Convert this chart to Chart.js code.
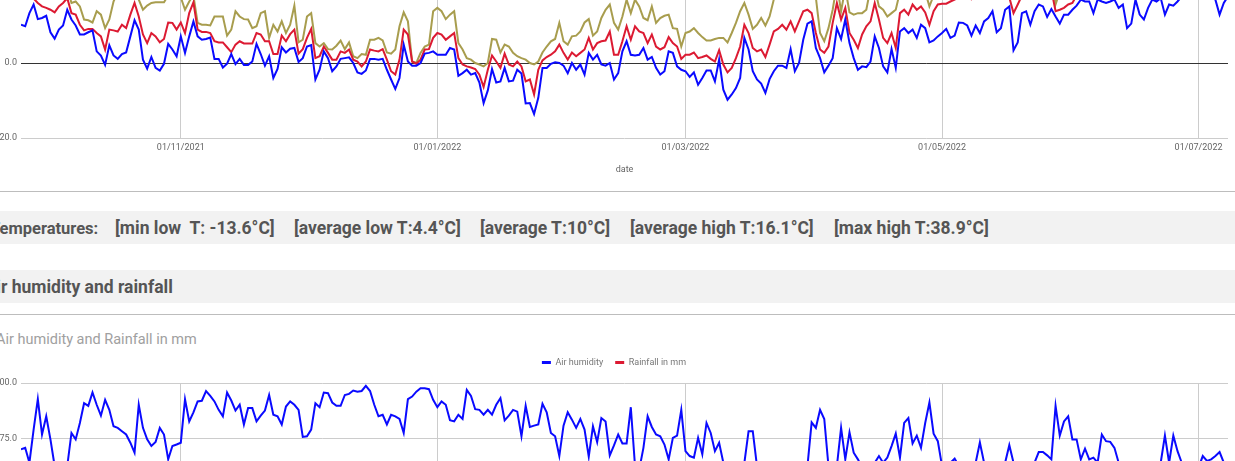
<!DOCTYPE html>
<html>
<head>
<meta charset="utf-8">
<script src="https://cdn.jsdelivr.net/npm/chart.js@4.4.1/dist/chart.umd.min.js"></script>
<style>
  html, body { margin: 0; padding: 0; }
  body { width: 1235px; height: 461px; overflow: hidden; position: relative; background: #fff; font-family: Roboto, Arial, sans-serif; }
  .rule { position: absolute; left: 0; width: 1235px; height: 1px; background: #bdbdbd; }
  .band { position: absolute; left: 0; width: 1235px; height: 33px; background: #f2f2f2; }
  .band span { position: absolute; top: 1px; line-height: 33px; white-space: pre; font-weight: 700; font-size: 17.5px; color: #555; }
  .box { position: absolute; left: 0; width: 1235px; }
  #title2 { position: absolute; left: -4px; top: 331px; font-size: 14.5px; color: #a0a0a0; white-space: pre; }
</style>
</head>
<body>

<div class="box" style="top:-97px;height:277px"><canvas id="tempChart"></canvas></div>

<div class="rule" style="top:191px"></div>
<div class="band" style="top:211px">
  <span style="left:-10px;font-size:16.5px">Temperatures:</span>
  <span style="left:115px">[min low  T: -13.6°C]</span>
  <span style="left:294px">[average low T:4.4°C]</span>
  <span style="left:480px">[average T:10°C]</span>
  <span style="left:630px">[average high T:16.1°C]</span>
  <span style="left:834px">[max high T:38.9°C]</span>
</div>
<div class="band" style="top:270px">
  <span style="left:-15.5px">Air humidity and rainfall</span>
</div>
<div class="rule" style="top:314px"></div>

<div id="title2">Air humidity and Rainfall in mm</div>
<div class="box" style="top:346px;height:301px"><canvas id="humChart"></canvas></div>

<script>
// one value per day, starting 24/09/2021 and ending 08/07/2022
const startLabel = '24/09/2021'
const monthTickDays = [38, 99, 158, 219, 280]
const monthTicks = ['01/11/2021', '01/01/2022', '01/03/2022', '01/05/2022', '01/07/2022']

const lowT = [
  10.2, 9.8, 13.3, 15.6, 11.7, 12.0, 12.6, 8.2, 6.5, 8.9, 10.0, 14.2, 11.6, 10.0, 7.6, 7.6, 8.2, 8.7, 3.1, 2.0,
  -0.5, 4.7, 2.0, 1.1, 2.4, 2.8, 7.1, 11.4, 8.9, 0.9, -1.5, 1.6, -1.3, -2.0, -0.2, 5.1, 3.6, 1.8,
  7.1, 2.7, 7.1, 11.1, 7.1, 6.2, 6.4, 6.8, 1.1, 1.1, -1.2, -0.2, 2.4, -0.3, 1.1, -0.5, -0.5, 0.4, 5.1, 2.4,
  -0.7, 1.8, -4.0, -1.6, 4.2, 2.8, 3.8, 4.0, 0.3, 1.3, 4.4, 4.8, -4.4, -1.8,
  3.1, 1.3, -2.2, -0.9, 1.1, 1.3, 1.5, 0, -2.5, -2.9, -2.0, 1.1, 1.1, 0.9, 1.1, -1.8, -4.4, -6.9, -4.0, 4.9,
  0.4, -0.7, -0.7, 0, 2.5, 2.7, 3.1, 2.2, 2.2, 2.2, 4.0, 3.6, -3.4, -2.7, -1.8, -3.1, -2.7, -5.2, -10.7, -7.3,
  -1.6, -5.2, -4.9, -1.3, -4.9, -4.7, -1.8, -2.8, -10.8, -10.7, -13.6, -9.3, -1.3, -1.3, -0.2, 0.2, 0, -0.7, -2.7, 0,
  -1.8, -0.4, -3.1, 2.7, 0.9, 2.2, -0.4, -0.7, 0, -4.4, -2.7, 3.1, 5.8, 2.2,
  2.0, 2.2, 4.0, 0.9, 1.6, -1.3, -3.1, -2.2, 3.1, 2.7, -0.9, -1.8, -2.2, -3.7, -2.5, -5.8, -4.0, -2.0, -2.0, -4.9,
  0.9, -7.1, -9.8, -8.4, -6.7, -4.0, 6.7, 3.6, -2.2, -4.4, -5.5, -8.0, -4.3, -2.2, -0.7, -0.7, -1.3, 3.7, -2.2, 0,
  6.2, 10.5, 11.1, 4.0, 1.3, -2.5, -0.7, 1.3, 9.3, 6.4, 11.6, 5.3, 1.3, -1.8, -0.9, -1.1, 0.4, 7.1, 4.0, -0.9,
  -2.5, 3.7, -1.3, 8.4, 9.3, 8.0, 8.9, 6.7, 10.2, 9.3, 5.5, 6.0,
  7.1, 8.0, 9.1, 6.7, 7.3, 10.8, 10.7, 10.0, 7.3, 10.0, 8.0, 11.1, 12.0, 13.8, 8.2, 9.3, 14.2, 15.1, 3.4, 5.5,
  13.3, 13.8, 10.2, 13.8, 15.6, 15.1, 12.3, 14.4, 12.4, 10.5, 12.9, 12.9, 14.2, 15.3, 16.9, 16.4, 16.4, 13.3, 16.9, 16.4,
  16.0, 16.4, 16.9, 14.7, 15.6, 9.3, 10.5, 16.9, 12.9, 11.6, 14.7, 16.9, 16.4, 17.3, 12.9, 15.6, 15.3, 16.4, 17.8, 18.7,
  18.2, 18.7, 19.1, 18.2, 18.7, 17.8, 16.9, 12.9, 16.0, 17.8
]

const avgT = [
  18.0, 18.5, 17.8, 17.2, 16.0, 15.1, 14.7, 14.2, 13.5, 15.1, 16.0, 17.3, 13.3, 12.9, 10.2, 8.7, 9.1, 9.1, 8.0, 7.1,
  3.6, 8.9, 8.7, 8.4, 10.2, 9.3, 12.9, 16.0, 12.4, 7.6, 5.3, 8.0, 7.1, 5.5, 6.4, 10.8, 10.7, 8.9,
  10.8, 8.0, 13.3, 16.2, 8.9, 8.3, 8.3, 8.0, 5.8, 5.5, 5.5, 4.2, 2.9, 4.9, 5.8, 5.2, 5.2, 5.2, 8.0, 7.6,
  5.8, 5.8, 2.4, 2.4, 7.3, 5.8, 7.7, 8.9, 2.5, 3.7, 6.7, 9.1, 1.3, 1.8,
  4.4, 2.7, 0.9, 0.9, 3.1, 2.7, 3.6, 0.9, 0.4, -0.9, 0.4, 3.6, 3.3, 3.1, 3.7, 0.9, -2.2, -3.1, 0.9, 8.9,
  7.6, 0.4, -0.2, 0.9, 3.6, 3.7, 6.7, 8.0, 7.6, 6.2, 7.1, 8.0, 1.3, -0.4, -0.9, -1.2, -1.6, -3.1, -6.4, -1.8,
  2.0, 0.4, -1.3, 2.5, -0.4, -0.9, 0.4, -0.9, -4.9, -4.4, -8.4, -1.8, 0.7, 1.6, 2.2, 3.1, 4.9, 2.7, 0.9, 2.8,
  1.8, 2.7, 3.6, 6.7, 3.6, 5.3, 5.8, 6.0, 8.4, 2.2, 2.2, 5.8, 9.8, 6.2,
  9.8, 8.4, 8.0, 5.3, 7.6, 4.4, 3.6, 4.2, 6.9, 5.3, 4.4, 1.1, 2.2, 2.2, 2.8, 1.3, 1.6, 2.0, 1.1, 0.4,
  3.4, -0.4, -2.5, -1.3, 1.3, 4.4, 10.2, 8.0, 4.0, 3.1, 3.6, 1.6, 4.9, 8.4, 9.1, 10.2, 8.9, 11.1, 8.4, 11.1,
  13.8, 14.2, 13.3, 8.0, 3.6, 2.7, 4.4, 10.7, 16.0, 11.6, 14.7, 8.0, 6.2, 4.0, 7.6, 9.8, 11.1, 16.0, 11.6, 6.7,
  5.3, 8.0, 4.0, 13.3, 14.2, 12.9, 15.6, 14.2, 15.1, 13.5, 10.2, 13.8,
  15.6, 15.8, 15.8, 16.4, 16.9, 17.5, 18.0, 17.5, 17.0, 18.0, 17.5, 18.5, 19.0, 19.5, 18.0, 18.0, 19.5, 17.5, 13.3, 15.6,
  18.0, 19.0, 17.5, 19.0, 20.0, 20.0, 18.5, 19.5, 13.8, 14.2, 14.7, 15.6, 16.0, 18.0,
  19.5, 20.5, 21.0, 19.0, 21.5, 21.0, 20.5, 21.5, 22.0, 20.0, 21.0, 17.5, 18.5, 22.0, 20.0, 19.5, 21.0, 22.5, 22.0, 23.0,
  20.5, 22.0, 21.5, 22.5, 23.5, 24.5, 24.0, 24.5, 25.0, 24.0, 24.5, 23.5, 22.5, 20.0, 22.5, 24.0
]

const highT = [
  22, 23, 24, 22, 21, 20, 21, 19, 19, 21, 22, 20, 16.0, 16.4, 15.1, 11.6, 11.4, 10.8, 13.8, 12.9,
  9.3, 11.6, 16.4, 19, 19, 18, 20, 23, 16.9, 14.2, 15.3, 16.0, 16.2, 16.2, 16.2, 18, 19, 18,
  17.5, 14.2, 16.4, 18, 10.7, 10.2, 10.2, 10.0, 12.4, 12.4, 12.4, 7.3, 8.9, 13.8, 12.4, 11.7, 11.6, 9.3, 9.8, 13.3,
  13.8, 6.7, 10.2, 8.4, 11.1, 8.0, 10.2, 15.3, 5.5, 6.2, 12.4, 13.3, 5.3, 4.4,
  5.3, 3.7, 3.6, 4.6, 6.0, 3.7, 5.5, 1.8, 1.3, 2.4, 2.2, 6.2, 6.2, 6.7, 6.0, 2.8, 2.5, 3.6, 9.8, 13.5,
  11.1, 0.4, 0, 2.7, 4.4, 4.9, 13.8, 14.7, 13.8, 11.7, 12.9, 13.8, 5.3, 3.6, 1.3, 0.9, 0, -0.4, -0.9, 0,
  6.4, 6.2, 2.8, 4.9, 4.4, 2.7, 1.8, 1.3, 0.9, 0, -0.4, 0.4, 2.8, 4.4, 5.8, 6.4, 10.7, 5.8, 4.9, 7.1,
  7.3, 8.4, 10.8, 11.7, 7.3, 8.4, 12.0, 14.2, 15.6, 10.7, 8.9, 12.4, 16.9, 13.3,
  16.9, 15.1, 12.0, 11.4, 15.1, 10.7, 12.0, 12.6, 12.9, 9.3, 9.1, 4.4, 8.0, 8.4, 9.3, 8.0, 6.9, 6.0, 6.0, 6.4,
  6.7, 6.7, 5.5, 8.0, 10.7, 13.8, 16.0, 12.9, 9.1, 10.2, 12.0, 10.0, 12.4, 16.9, 18, 20, 19, 21, 19, 21,
  23, 24, 22, 17.5, 8.0, 5.8, 9.3, 14.2, 21, 13.8, 20, 13.5, 12.9, 13.3, 13.3, 14.2, 20, 20, 15.1, 14.2,
  12.4, 13.3, 14.2, 19, 20, 19, 21, 20, 21, 19, 15.1, 18,
  19, 17.5, 20, 21, 22, 23, 22, 24, 23, 22, 24, 25, 26, 27, 24, 25, 27, 25, 19, 21,
  24, 26, 24, 26, 27, 28, 26, 25, 15.6, 19, 21, 22, 23, 25, 26, 27, 28, 25, 28, 27,
  26, 28, 29, 27, 28, 24, 25, 29, 27, 26, 28, 30, 29, 31, 27, 29, 28, 30, 31, 33,
  38.9, 36, 34, 32, 33, 31, 30, 27, 30, 32
]

const humidity = [
  70.1, 70.8, 64.1, 79.0, 92.7, 76.8, 85.0, 74.6, 62.6, 59.7, 61.2, 62.6, 77.5, 74.6, 82.0, 90.9, 89.7, 95.7, 90.2, 85.3,
  92.4, 87.9, 80.5, 79.8, 78.3, 76.8, 73.1, 68.6, 90.2, 79.8, 74.6, 71.6, 73.4, 79.8, 76.8, 65.6, 71.6, 72.3,
  73.1, 92.7, 82.7, 86.8, 91.7, 92.0, 96.4, 94.2, 91.7, 87.9, 85.0, 95.7, 92.1, 87.6, 90.2, 81.3, 88.7, 88.7, 82.7, 85.3,
  87.6, 94.6, 85.7, 85.0, 81.3, 89.4, 91.7, 90.2, 87.9, 75.7, 76.0, 79.0, 90.9, 89.1, 95.7, 95.4, 91.2, 89.7, 89.7, 94.6,
  95.1, 96.6, 96.1, 96.4, 98.7, 96.4, 90.2, 85.0, 85.7, 81.3, 85.7, 85.0, 83.8, 77.5, 92.7, 93.9, 96.1, 97.6,
  97.6, 97.2, 92.4, 89.1, 91.7, 90.2, 83.2, 82.7, 85.7, 83.8, 96.9, 94.2, 88.2, 87.9, 85.7, 87.9, 85.7, 90.2, 93.2, 83.2,
  85.3, 87.9, 87.1, 76.0, 89.7, 80.2, 80.8, 81.3, 90.6, 86.8, 77.5, 76.0, 67.1, 80.8, 86.8, 83.5, 79.8, 83.8, 79.0, 66.8,
  80.5, 73.4, 84.2, 82.7, 67.4, 71.9, 76.8, 72.8, 72.8, 89.1, 62.6, 61.0, 70.8, 85.0, 80.2, 76.8, 76.0, 72.3, 65.6, 75.3,
  76.3, 87.9, 69.3, 67.1, 66.4, 75.3, 67.9, 82.0, 77.5, 69.3, 73.1, 64.1, 61.0, 58.0, 59.7, 62.6, 64.0, 78.3, 78.3, 62.6,
  60.0, 57.5, 55.0, 58.0, 61.0, 56.0, 53.0, 57.0, 59.5, 55.5, 60.0,
  62.6, 82.3, 79.8, 87.9,
  83.8, 62.6, 60.4, 62.6, 79.8, 65.6, 77.8, 68.6, 65.6, 61.9, 61.2, 62.6, 64.1, 67.1, 64.1, 66.4, 71.6, 77.2, 66.4, 82.0,
  84.2, 72.8, 76.3, 70.8, 82.0, 91.2, 77.2, 73.8, 62.6, 61.9, 64.1, 65.9, 62.6, 61.2, 61.9, 62.6, 64.1, 73.2, 64.1, 61.2,
  59.7, 60.4, 61.9, 64.1, 72.0, 64.1, 61.2, 60.4, 61.9, 62.6, 64.1, 68.9, 68.9, 67.4, 65.6, 89.7, 76.3, 82.7, 85.0, 74.6,
  74.6, 65.6, 70.4, 65.6, 66.4, 64.1, 76.8, 73.8, 73.5, 70.8, 64.1,
  60.0, 57.0, 54.5, 58.0, 61.5, 56.5, 52.0, 55.0, 59.0,
  64.1, 76.3, 64.1, 76.3, 69.3, 64.1,
  58.0, 55.5, 60.5, 62.0,
  67.1, 64.9, 65.6, 67.1, 68.9, 64.1, 62.6
]

// rainy days only (day index from the start, mm); every other day is 0
const rainDays = [2, 13, 27, 35, 52, 60, 66, 73, 90, 98, 104, 118, 127, 135, 147, 156, 166, 170, 178, 184, 197, 208, 219, 233, 236, 247]
const rainMm = [4.2, 8.5, 12.0, 6.1, 3.0, 9.8, 5.5, 2.4, 7.2, 4.6, 3.3, 6.0, 2.1, 5.0, 1.8, 3.6, 2.2, 7.4, 10.5, 1.5, 4.8, 14.2, 2.7, 6.3, 3.9, 5.1]

const rainfall = humidity.map(() => 0)
rainDays.forEach((d, i) => { rainfall[d] = rainMm[i] })

const pts = arr => arr.map((v, i) => ({ x: i, y: v }))

Chart.defaults.font.family = 'Roboto, Arial, sans-serif'
Chart.defaults.color = '#666'

const dateAxis = (showTitle) => ({
  type: 'linear',
  min: 0,
  max: lowT.length - 1,
  afterBuildTicks: s => { s.ticks = monthTickDays.map(v => ({ value: v })) },
  afterFit: s => { s.height = 42 },
  ticks: {
    autoSkip: false,
    maxRotation: 0,
    padding: 4,
    font: { size: 9 },
    color: '#666',
    callback: v => monthTicks[monthTickDays.indexOf(v)]
  },
  grid: { color: '#cccccc', drawTicks: false },
  border: { display: false },
  title: { display: showTitle, text: 'date', font: { size: 9 }, color: '#666', padding: { top: 0, bottom: 5 } }
})

new Chart(document.getElementById('tempChart'), {
  type: 'line',
  data: {
    datasets: [
      { label: 'low T', data: pts(lowT), borderColor: '#0a0aff', backgroundColor: '#0a0aff' },
      { label: 'average T', data: pts(avgT), borderColor: '#dc1a32', backgroundColor: '#dc1a32' },
      { label: 'high T', data: pts(highT), borderColor: '#a89d4e', backgroundColor: '#a89d4e' }
    ]
  },
  options: {
    animation: false,
    responsive: true,
    maintainAspectRatio: false,
    layout: { padding: { top: 10, right: 7, bottom: 0, left: 0 } },
    elements: { point: { radius: 0 }, line: { borderWidth: 2, tension: 0 } },
    plugins: { legend: { display: false }, tooltip: { enabled: false } },
    scales: {
      x: dateAxis(true),
      y: {
        min: -20,
        max: 40,
        afterFit: s => { s.width = 21 },
        ticks: { stepSize: 20, padding: 4, font: { size: 9 }, color: '#666', callback: v => v.toFixed(1) },
        grid: { drawTicks: false, color: c => (c.tick && c.tick.value === 0 ? '#333333' : '#cccccc') },
        border: { display: false }
      }
    }
  }
})

// extra room between the legend and the plot
const legendGap = {
  id: 'legendGap',
  beforeInit(chart) {
    const fit = chart.legend.fit
    chart.legend.fit = function () {
      fit.bind(chart.legend)()
      this.height += 6
    }
  }
}

new Chart(document.getElementById('humChart'), {
  type: 'line',
  data: {
    datasets: [
      { label: 'Air humidity', data: pts(humidity), borderColor: '#0a0aff', backgroundColor: '#0a0aff' },
      { label: 'Rainfall in mm', data: pts(rainfall), borderColor: '#dc1a32', backgroundColor: '#dc1a32' }
    ]
  },
  options: {
    animation: false,
    responsive: true,
    maintainAspectRatio: false,
    layout: { padding: { top: 0, right: 7, bottom: 0, left: 0 } },
    elements: { point: { radius: 0 }, line: { borderWidth: 2, tension: 0 } },
    plugins: {
      tooltip: { enabled: false },
      legend: {
        labels: {
          boxWidth: 9,
          boxHeight: 3,
          padding: 12,
          font: { size: 9 },
          color: '#777',
          generateLabels: chart => Chart.defaults.plugins.legend.labels.generateLabels(chart).map(l => ({ ...l, lineWidth: 0 }))
        }
      }
    },
    scales: {
      x: dateAxis(false),
      y: {
        min: 0,
        max: 100,
        afterFit: s => { s.width = 21 },
        ticks: { stepSize: 25, padding: 4, font: { size: 9 }, color: '#666', callback: v => v.toFixed(1) },
        grid: { drawTicks: false, color: '#cccccc' },
        border: { display: false }
      }
    }
  },
  plugins: [legendGap]
})
</script>
</body>
</html>
